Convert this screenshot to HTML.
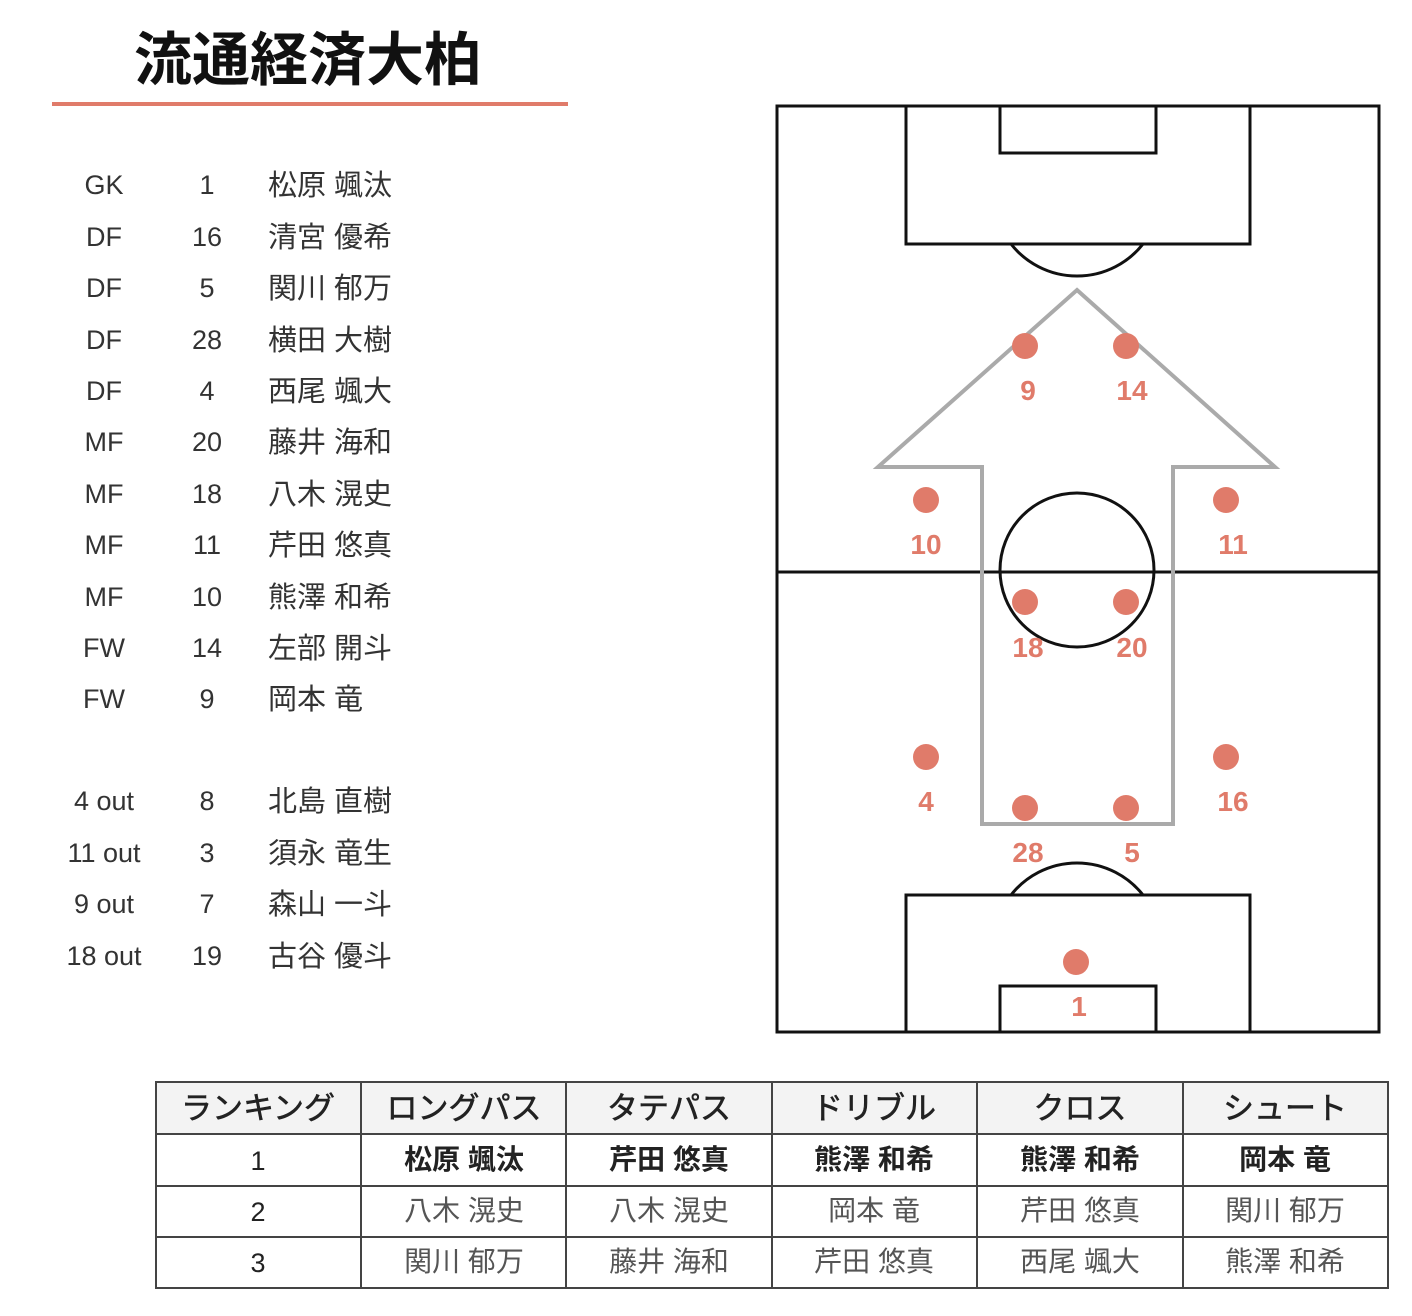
<!DOCTYPE html>
<html><head><meta charset="utf-8"><style>
html,body{margin:0;padding:0;background:#fff;}
svg{display:block;font-family:"Liberation Sans","Noto Sans CJK JP",sans-serif;}
</style></head><body>
<svg width="1412" height="1316" viewBox="0 0 1412 1316" xmlns="http://www.w3.org/2000/svg">
<text x="308" y="80" font-size="58" font-weight="bold" text-anchor="middle" fill="#111">流通経済大柏</text>
<rect x="52" y="102" width="516" height="4" fill="#e07b6a"/>
<g font-size="27" fill="#333">
<g text-anchor="middle">
<text x="104" y="194">GK</text><text x="207" y="194">1</text>
<text x="104" y="246">DF</text><text x="207" y="246">16</text>
<text x="104" y="297">DF</text><text x="207" y="297">5</text>
<text x="104" y="349">DF</text><text x="207" y="349">28</text>
<text x="104" y="400">DF</text><text x="207" y="400">4</text>
<text x="104" y="451">MF</text><text x="207" y="451">20</text>
<text x="104" y="503">MF</text><text x="207" y="503">18</text>
<text x="104" y="554">MF</text><text x="207" y="554">11</text>
<text x="104" y="606">MF</text><text x="207" y="606">10</text>
<text x="104" y="657">FW</text><text x="207" y="657">14</text>
<text x="104" y="708">FW</text><text x="207" y="708">9</text>
<text x="104" y="810">4 out</text><text x="207" y="810">8</text>
<text x="104" y="862">11 out</text><text x="207" y="862">3</text>
<text x="104" y="913">9 out</text><text x="207" y="913">7</text>
<text x="104" y="965">18 out</text><text x="207" y="965">19</text>
</g>
<g font-size="29">
<text x="268" y="195">松原 颯汰</text>
<text x="268" y="247">清宮 優希</text>
<text x="268" y="298">関川 郁万</text>
<text x="268" y="350">横田 大樹</text>
<text x="268" y="401">西尾 颯大</text>
<text x="268" y="452">藤井 海和</text>
<text x="268" y="504">八木 滉史</text>
<text x="268" y="555">芹田 悠真</text>
<text x="268" y="607">熊澤 和希</text>
<text x="268" y="658">左部 開斗</text>
<text x="268" y="709">岡本 竜</text>
<text x="268" y="811">北島 直樹</text>
<text x="268" y="863">須永 竜生</text>
<text x="268" y="914">森山 一斗</text>
<text x="268" y="966">古谷 優斗</text>
</g>
</g>
<g fill="none" stroke="#111" stroke-width="3">
<rect x="777" y="106" width="602" height="926"/>
<line x1="777" y1="572" x2="1379" y2="572"/>
<rect x="906" y="106" width="344" height="138"/>
<rect x="1000" y="106" width="156" height="47"/>
<path d="M1011 244 A84 84 0 0 0 1143 244"/>
<circle cx="1077" cy="570" r="77"/>
<rect x="906" y="895" width="344" height="137"/>
<rect x="1000" y="986" width="156" height="46"/>
<path d="M1011 895 A84 84 0 0 1 1143 895"/>
</g>
<polygon points="1077,290 1275,467 1173,467 1173,824 982,824 982,467 878,467" fill="none" stroke="#aaa" stroke-width="4"/>
<g fill="#e07b6a">
<circle cx="1025" cy="346" r="13"/><circle cx="1126" cy="346" r="13"/>
<circle cx="926" cy="500" r="13"/><circle cx="1226" cy="500" r="13"/>
<circle cx="1025" cy="602" r="13"/><circle cx="1126" cy="602" r="13"/>
<circle cx="926" cy="757" r="13"/><circle cx="1226" cy="757" r="13"/>
<circle cx="1025" cy="808" r="13"/><circle cx="1126" cy="808" r="13"/>
<circle cx="1076" cy="962" r="13"/>
</g>
<g fill="#e07b6a" font-size="28" font-weight="bold" text-anchor="middle">
<text x="1028" y="400">9</text><text x="1132" y="400">14</text>
<text x="926" y="554">10</text><text x="1233" y="554">11</text>
<text x="1028" y="657">18</text><text x="1132" y="657">20</text>
<text x="926" y="811">4</text><text x="1233" y="811">16</text>
<text x="1028" y="862">28</text><text x="1132" y="862">5</text>
<text x="1079" y="1016">1</text>
</g>
<rect x="156" y="1082" width="1232" height="52" fill="#f3f3f3"/>
<g stroke="#444" stroke-width="2" fill="none">
<rect x="156" y="1082" width="1232" height="206"/>
<line x1="156" y1="1134" x2="1388" y2="1134"/>
<line x1="156" y1="1186" x2="1388" y2="1186"/>
<line x1="156" y1="1237" x2="1388" y2="1237"/>
<line x1="361" y1="1082" x2="361" y2="1288"/>
<line x1="566" y1="1082" x2="566" y2="1288"/>
<line x1="772" y1="1082" x2="772" y2="1288"/>
<line x1="977" y1="1082" x2="977" y2="1288"/>
<line x1="1183" y1="1082" x2="1183" y2="1288"/>
</g>
<g font-size="31" text-anchor="middle" fill="#222" stroke="#222" stroke-width="0.6">
<text x="258" y="1119">ランキング</text><text x="464" y="1119">ロングパス</text><text x="669" y="1119">タテパス</text><text x="874" y="1119">ドリブル</text><text x="1080" y="1119">クロス</text><text x="1285" y="1119">シュート</text>
</g>
<g font-size="27" text-anchor="middle" fill="#222">
<text x="258" y="1170">1</text><text x="258" y="1221">2</text><text x="258" y="1272">3</text>
</g>
<g font-size="28" text-anchor="middle" font-weight="bold" fill="#222">
<text x="464" y="1169">松原 颯汰</text><text x="669" y="1169">芹田 悠真</text><text x="874" y="1169">熊澤 和希</text><text x="1080" y="1169">熊澤 和希</text><text x="1285" y="1169">岡本 竜</text>
</g>
<g font-size="28" text-anchor="middle" fill="#555">
<text x="464" y="1220">八木 滉史</text><text x="669" y="1220">八木 滉史</text><text x="874" y="1220">岡本 竜</text><text x="1080" y="1220">芹田 悠真</text><text x="1285" y="1220">関川 郁万</text>
<text x="464" y="1271">関川 郁万</text><text x="669" y="1271">藤井 海和</text><text x="874" y="1271">芹田 悠真</text><text x="1080" y="1271">西尾 颯大</text><text x="1285" y="1271">熊澤 和希</text>
</g>
</svg>
</body></html>
